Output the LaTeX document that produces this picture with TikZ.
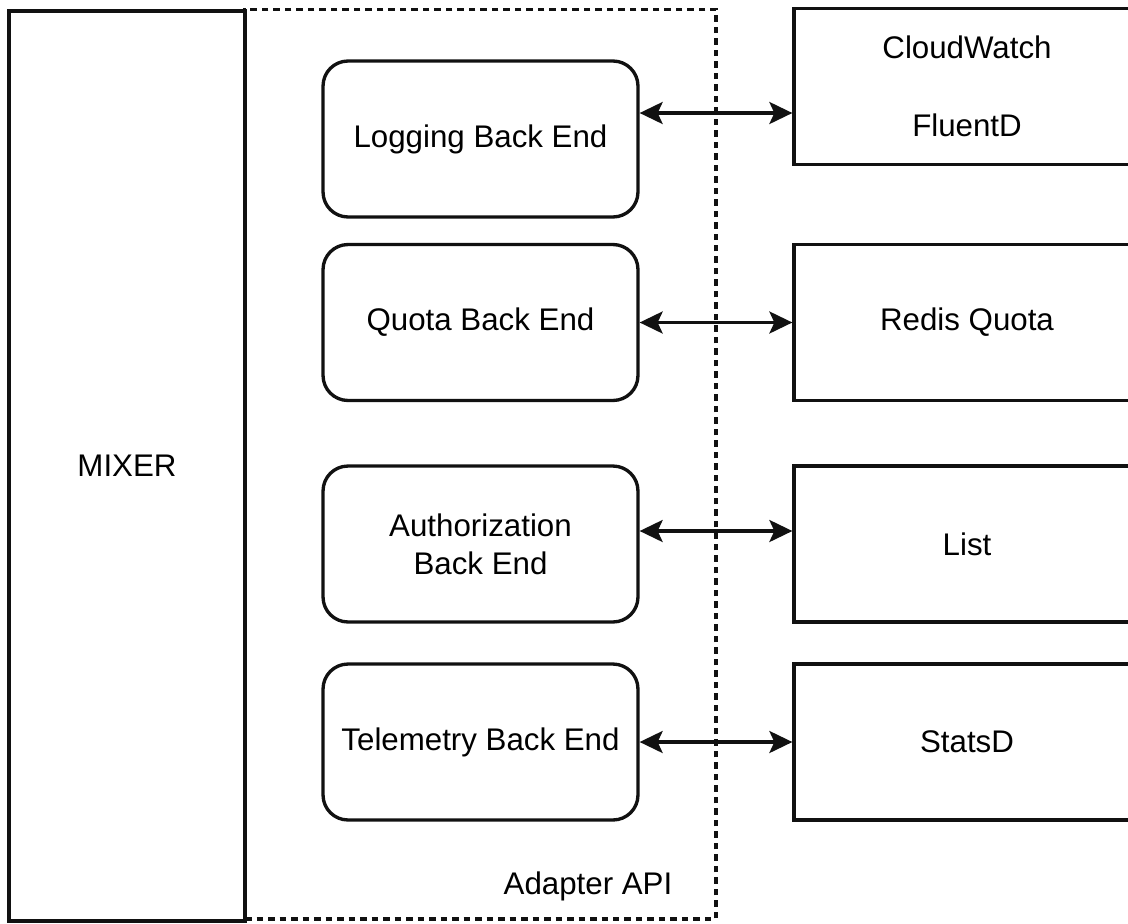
\documentclass[tikz,border=0pt]{standalone}
\usepackage{fontspec}
\setmainfont{Liberation Sans}
\usetikzlibrary{arrows.meta}
\definecolor{edgeblack}{HTML}{111111}

\begin{document}
\begin{tikzpicture}[
    x=0.02cm, y=-0.02cm,
    font=\fontsize{17.8}{21.5}\selectfont,
    api/.style={rectangle, draw=edgeblack, dash pattern=on 0.13cm off 0.1cm, line width=1.8pt, minimum width=9.42cm, minimum height=18.2cm, inner sep=0pt},
    mixer/.style={rectangle, draw=edgeblack, line width=2pt, minimum width=4.72cm, minimum height=18.2cm, inner sep=0pt},
    backend/.style={rectangle, rounded corners=0.5cm, draw=edgeblack, line width=1.9pt, minimum width=6.3cm, minimum height=3.12cm, align=center, inner sep=0pt},
    ext/.style={rectangle, draw=edgeblack, line width=1.9pt, minimum width=6.92cm, minimum height=3.12cm, align=center, inner sep=0pt},
    fl/.style={{Stealth[length=0.46cm, width=0.44cm, inset=0.1cm]}-{Stealth[length=0.46cm, width=0.44cm, inset=0.1cm]}, line width=1.8pt, draw=edgeblack}
  ]
  \useasboundingbox (0,0) rectangle (1128,923);

  \node[api]   (adapter) at (480.5, 464) {};
  \node[mixer] (mix)     at (127, 466) {MIXER};
  \node        (apilbl)  at (588, 886) {Adapter API};

  \node[backend] (log)  at (480.5, 139)   {Logging Back End};
  \node[backend] (quo)  at (480.5, 322.5) {Quota Back End};
  \node[backend] (auth) at (480.5, 544)   {Authorization\\Back End};
  \node[backend] (tel)  at (480.5, 742)   {Telemetry Back End};

  \node[ext] (cw)    at (967, 86.5)  {CloudWatch\\[0.8cm]FluentD};
  \node[ext] (redis) at (967, 322.5) {Redis Quota};
  \node[ext] (lst)   at (967, 544)   {List};
  \node[ext] (stats) at (967, 742)   {StatsD};

  \draw[fl] ([yshift=0.52cm]log.east) -- ([yshift=0.52cm]log.east -| cw.west);
  \draw[fl] (quo.east) -- (redis.west);
  \draw[fl] ([yshift=0.26cm]auth.east) -- ([yshift=0.26cm]auth.east -| lst.west);
  \draw[fl] (tel.east) -- (stats.west);
\end{tikzpicture}
\end{document}
